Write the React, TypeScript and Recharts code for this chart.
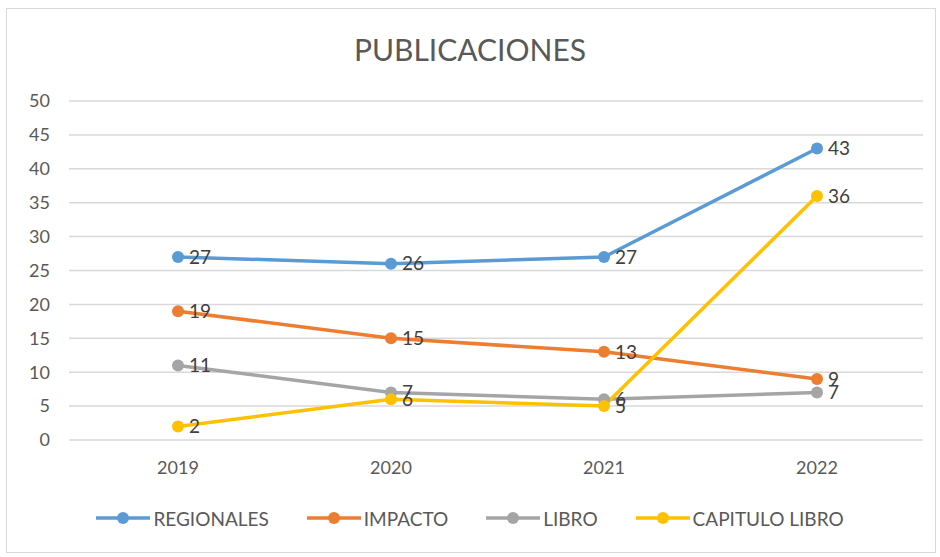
import React from 'react';
import { LineChart, Line, XAxis, YAxis, CartesianGrid, LabelList } from 'recharts';

const years = ['2019', '2020', '2021', '2022'];
const regionales = [27, 26, 27, 43];
const impacto = [19, 15, 13, 9];
const libro = [11, 7, 6, 7];
const capituloLibro = [2, 6, 5, 36];
const yTicks = [0, 5, 10, 15, 20, 25, 30, 35, 40, 45, 50];

const series = [
  { key: 'regionales', name: 'REGIONALES', color: '#5B9BD5' },
  { key: 'impacto', name: 'IMPACTO', color: '#ED7D31' },
  { key: 'libro', name: 'LIBRO', color: '#A5A5A5' },
  { key: 'capitulo', name: 'CAPITULO LIBRO', color: '#FFC000' },
];

const data = years.map((y, i) => ({
  year: y,
  regionales: regionales[i],
  impacto: impacto[i],
  libro: libro[i],
  capitulo: capituloLibro[i],
}));

const FONT = 'Lato, "Open Sans", sans-serif';

export default function App() {
  return (
    <div style={{ position: 'absolute', left: 0, top: 0, width: 940, height: 557, background: '#fff', fontFamily: FONT }}>
      <div style={{ position: 'absolute', left: 6, top: 8, width: 928, height: 543, border: '1px solid #d9d9d9' }} />
      <div style={{ position: 'absolute', left: 0, top: 31, width: 940, textAlign: 'center', fontSize: 30, color: '#595959' }}>
        PUBLICACIONES
      </div>
      <LineChart width={940} height={557} data={data} margin={{ top: 101, right: 17, bottom: 87, left: 9 }} style={{ position: 'absolute', left: 0, top: 0 }}>
        <CartesianGrid vertical={false} stroke="#d9d9d9" strokeWidth={1.5} />
        <XAxis dataKey="year" axisLine={false} tickLine={false} tickSize={0} tickMargin={21} padding={{ left: 109, right: 106 }} tick={{ fill: '#595959', fontSize: 18, fontFamily: FONT }} />
        <YAxis domain={[0, 50]} ticks={yTicks} width={60} axisLine={false} tickLine={false} tickSize={0} tickMargin={19} tick={{ fill: '#595959', fontSize: 18, fontFamily: FONT }} />
        {series.map((s) => (
          <Line key={s.key} dataKey={s.key} name={s.name} stroke={s.color} strokeWidth={3.5} isAnimationActive={false}
            dot={{ r: 6, fill: s.color, stroke: 'none' }}>
            <LabelList dataKey={s.key} position="right" offset={11} fill="#404040" fontSize={19} fontFamily={FONT} />
          </Line>
        ))}
      </LineChart>
      <div style={{ position: 'absolute', left: 0, top: 506, width: 940, display: 'flex', justifyContent: 'center', gap: 38, fontSize: 19, color: '#595959' }}>
        {series.map((s) => (
          <div key={s.key} style={{ display: 'flex', alignItems: 'center' }}>
            <svg width={54} height={24} style={{ marginRight: 3 }}>
              <line x1={0} y1={12} x2={54} y2={12} stroke={s.color} strokeWidth={3.5} />
              <circle cx={27} cy={12} r={6} fill={s.color} />
            </svg>
            <span>{s.name}</span>
          </div>
        ))}
      </div>
    </div>
  );
}
